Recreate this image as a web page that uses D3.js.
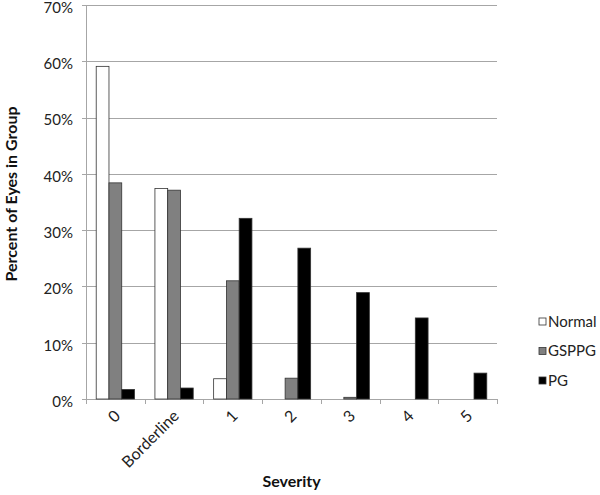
<!DOCTYPE html>
<html>
<head>
<meta charset="utf-8">
<script src="https://cdn.jsdelivr.net/npm/d3@7"></script>
<style>
  body { margin: 0; background: #fff; }
  svg { font-family: Lato, "Open Sans", sans-serif; }
</style>
</head>
<body>
<svg id="chart" width="600" height="495"></svg>
<script>
const categories = ["0", "Borderline", "1", "2", "3", "4", "5"];
const seriesNames = ["Normal", "GSPPG", "PG"];
const normal = [59.1, 37.4, 3.6, 0, 0, 0, 0];
const gsppg  = [38.4, 37.1, 21.0, 3.7, 0.3, 0, 0];
const pg     = [1.7, 1.95, 32.1, 26.8, 18.9, 14.4, 4.6];
const yTicks = [0, 10, 20, 30, 40, 50, 60, 70];
const colors = ["#ffffff", "#808080", "#000000"];

const seriesValues = [normal, gsppg, pg];
const data = categories.map((c, i) => ({
  cat: c,
  vals: seriesNames.map((s, j) => ({ key: s, idx: j, value: seriesValues[j][i] }))
}));

const svg = d3.select("#chart");
const mLeft = 86, mRight = 497, mTop = 5, mBottom = 399;

const x0 = d3.scaleBand().domain(categories).range([mLeft, mRight]).padding(0);
const x1 = d3.scaleBand().domain(seriesNames).range([0, x0.bandwidth()]).paddingInner(0).paddingOuter(0.8);
const y = d3.scaleLinear().domain([0, 70]).range([mBottom, mTop]);

// gridlines
svg.append("g")
  .selectAll("line").data(yTicks).join("line")
  .attr("x1", mLeft - 4).attr("x2", mRight)
  .attr("y1", d => Math.round(y(d)) + 0.5).attr("y2", d => Math.round(y(d)) + 0.5)
  .attr("stroke", "#a6a6a6").attr("stroke-width", 1);

// y axis line
svg.append("line")
  .attr("x1", mLeft + 0.5).attr("x2", mLeft + 0.5)
  .attr("y1", mTop).attr("y2", mBottom)
  .attr("stroke", "#a6a6a6");

// y tick labels
svg.append("g")
  .selectAll("text").data(yTicks).join("text")
  .attr("x", mLeft - 13).attr("y", d => y(d) + 2.5)
  .attr("dy", "0.36em")
  .attr("text-anchor", "end")
  .attr("font-size", 15)
  .attr("fill", "#222")
  .text(d => d + "%");

// x axis ticks (category boundaries)
const bounds = categories.map(c => x0(c)).concat([mRight]);
svg.append("g")
  .selectAll("line").data(bounds).join("line")
  .attr("x1", d => Math.round(d) + 0.5).attr("x2", d => Math.round(d) + 0.5)
  .attr("y1", mBottom).attr("y2", mBottom + 5)
  .attr("stroke", "#a6a6a6");

// bars
const groups = svg.append("g").selectAll("g").data(data).join("g")
  .attr("transform", d => `translate(${x0(d.cat)},0)`);
groups.selectAll("rect").data(d => d.vals).join("rect")
  .attr("x", d => x1(d.key))
  .attr("width", x1.bandwidth())
  .attr("y", d => y(d.value))
  .attr("height", d => Math.max(0, y(0) - y(d.value)))
  .attr("fill", d => colors[d.idx])
  .attr("stroke", d => d.value > 0 ? "#333" : "none")
  .attr("stroke-width", 0.8);

// x tick labels
svg.append("g")
  .selectAll("text").data(categories).join("text")
  .attr("transform", d => `translate(${x0(d) + x0.bandwidth() / 2 + 6},${mBottom + 18}) rotate(-45)`)
  .attr("text-anchor", "end")
  .attr("font-size", 16)
  .attr("fill", "#222")
  .text(d => d);

// axis titles
svg.append("text")
  .attr("x", (mLeft + mRight) / 2).attr("y", 487)
  .attr("text-anchor", "middle")
  .attr("font-size", 16).attr("font-weight", "bold")
  .attr("fill", "#111")
  .text("Severity");

svg.append("text")
  .attr("transform", `translate(17,194) rotate(-90)`)
  .attr("text-anchor", "middle")
  .attr("font-size", 16).attr("font-weight", "bold")
  .attr("fill", "#111")
  .text("Percent of Eyes in Group");

// legend
const legend = svg.append("g").selectAll("g").data(seriesNames).join("g")
  .attr("transform", (d, i) => `translate(539,${318 + i * 29.5})`);
legend.append("rect")
  .attr("width", 7).attr("height", 7)
  .attr("fill", (d, i) => colors[i])
  .attr("stroke", "#333").attr("stroke-width", 0.8);
legend.append("text")
  .attr("x", 9).attr("y", 3.5).attr("dy", "0.36em")
  .attr("font-size", 15).attr("fill", "#222")
  .text(d => d);
</script>
</body>
</html>
